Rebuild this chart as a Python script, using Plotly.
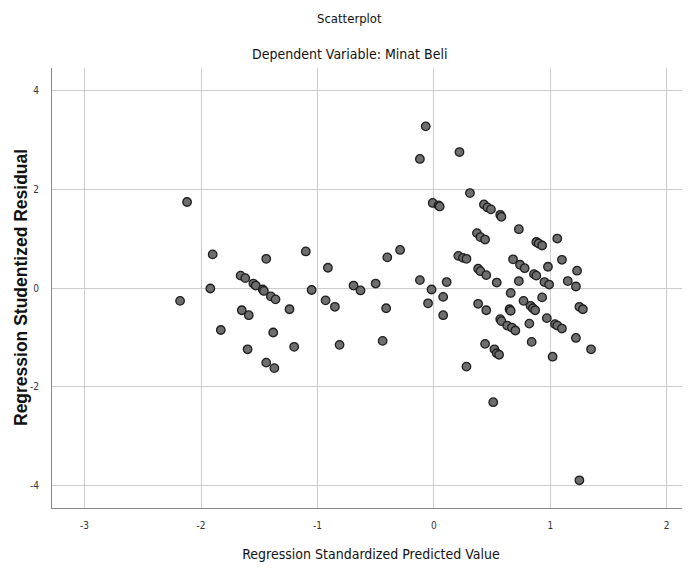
import plotly.graph_objects as go

# Regression Standardized Predicted Value (x) and Studentized Residual (y)
pred_x = [
    -2.12, -1.90, -1.44, -1.10, -0.91, -1.66, -1.62, -1.55, -1.53, -1.47, -1.46,
    -1.92, -2.18, -1.40, -1.36, -1.05, -0.93, -0.85, -1.24, -1.65, -1.59, -1.83,
    -1.38, -0.81, -1.20, -1.60, -1.44, -1.37,
    -0.40, -0.29, -0.69, -0.63, -0.50, -0.41, -0.44,
    -0.07, -0.12, 0.22, 0.31, -0.01, 0.04, 0.05, 0.43, 0.46, 0.49, 0.57, 0.58,
    0.73, 0.37, 0.40, 0.44, 0.88, 0.90, 0.93, 1.06, 0.21, 0.25, 0.28, 0.68,
    0.74, 0.78, 0.98, 0.86, 0.88, 0.95, 0.99, 0.38, 0.40, 0.45, 0.54, 0.73,
    -0.12, -0.02, 0.11, -0.05, 0.08, 0.08, 0.38, 0.45, 0.66, 0.65, 0.66,
    0.57, 0.58, 0.63, 0.67, 0.70, 0.77, 0.83, 0.85, 0.87, 0.93, 0.97, 0.82,
    0.84, 0.44, 0.52, 0.54, 0.56, 0.28, 1.02, 0.51, 1.04, 1.06, 1.10,
    1.10, 1.23, 1.15, 1.22, 1.25, 1.28, 1.22, 1.35, 1.25,
]
resid_y = [
    1.74, 0.68, 0.59, 0.74, 0.41, 0.25, 0.20, 0.09, 0.05, -0.03, -0.06,
    -0.01, -0.26, -0.17, -0.23, -0.04, -0.25, -0.38, -0.43, -0.45, -0.55, -0.85,
    -0.90, -1.15, -1.19, -1.24, -1.51, -1.62,
    0.62, 0.77, 0.05, -0.05, 0.09, -0.41, -1.07,
    3.27, 2.61, 2.75, 1.92, 1.72, 1.67, 1.65, 1.69, 1.63, 1.59, 1.48, 1.44,
    1.19, 1.11, 1.03, 0.98, 0.93, 0.90, 0.86, 1.00, 0.65, 0.61, 0.59, 0.58,
    0.47, 0.40, 0.43, 0.28, 0.25, 0.12, 0.07, 0.39, 0.34, 0.26, 0.11, 0.14,
    0.16, -0.03, 0.12, -0.31, -0.18, -0.55, -0.32, -0.45, -0.10, -0.43, -0.46,
    -0.63, -0.67, -0.76, -0.80, -0.86, -0.26, -0.36, -0.41, -0.45, -0.19, -0.61, -0.72,
    -1.09, -1.13, -1.24, -1.32, -1.35, -1.59, -1.39, -2.31, -0.73, -0.76, -0.82,
    0.57, 0.35, 0.14, 0.03, -0.38, -0.43, -1.01, -1.24, -3.89,
]

x_ticks = [-3, -2, -1, 0, 1, 2]
y_ticks = [-4, -2, 0, 2, 4]

NARROW = "Liberation Sans Narrow, Arial Narrow, DejaVu Sans Condensed, sans-serif"

fig = go.Figure()
fig.add_trace(go.Scatter(
    x=pred_x, y=resid_y, mode="markers",
    marker=dict(size=8.5, color="#6e6e6e", line=dict(color="#1e1e1e", width=1.3)),
    hoverinfo="x+y", showlegend=False,
))

# the page body adds an 8px offset, so the figure is sized to compensate
fig.update_layout(
    width=682, height=562,
    margin=dict(l=44, r=0, t=60, b=62),
    paper_bgcolor="white", plot_bgcolor="white",
    font=dict(family=NARROW, color="#222222"),
    annotations=[
        dict(text="Scatterplot", xref="paper", yref="paper", x=0.467, y=1,
             yanchor="middle", yshift=50, showarrow=False,
             font=dict(size=13, family=NARROW, color="#111111")),
        dict(text="Dependent Variable: Minat Beli", xref="paper", yref="paper", x=0.467, y=1,
             yanchor="middle", yshift=14, showarrow=False,
             font=dict(size=14, family=NARROW, color="#111111")),
        dict(text="<b>Regression Studentized Residual</b>", xref="paper", yref="paper",
             x=0, y=0.5, xanchor="center", yanchor="middle", xshift=-31, textangle=-90,
             showarrow=False,
             font=dict(size=17.5, family="Liberation Sans, Arial, sans-serif", color="#111111")),
    ],
    xaxis=dict(
        range=[-3.28, 2.2], tickvals=x_ticks, ticktext=[str(v) for v in x_ticks],
        showgrid=True, gridcolor="#cccccc", gridwidth=1, zeroline=False,
        showline=True, linecolor="#888888", linewidth=1, automargin=False,
        ticks="", ticklabelstandoff=8, tickfont=dict(size=10, family=NARROW, color="#333333"),
        title=dict(text="Regression Standardized Predicted Value", standoff=19,
                   font=dict(size=14, family=NARROW, color="#111111")),
    ),
    yaxis=dict(
        range=[-4.45, 4.45], tickvals=y_ticks, ticktext=[str(v) for v in y_ticks],
        showgrid=True, gridcolor="#cccccc", gridwidth=1, zeroline=False,
        showline=True, linecolor="#888888", linewidth=1, automargin=False,
        ticks="", ticklabelstandoff=10, tickfont=dict(size=10, family=NARROW, color="#333333"),
    ),
)

fig.write_html("out.html")
